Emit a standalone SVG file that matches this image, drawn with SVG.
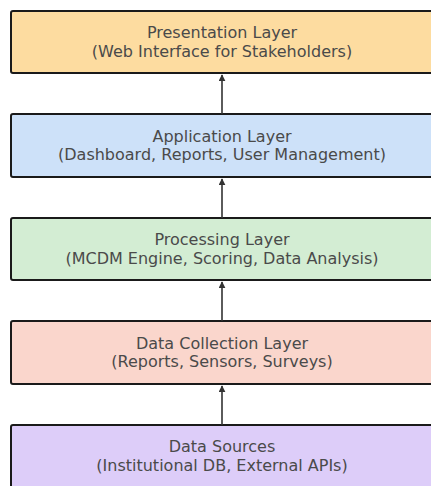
<svg xmlns="http://www.w3.org/2000/svg" width="431" height="486" viewBox="0 0 431 486">
<defs>
<style>
.box{stroke:#1a1a1a;stroke-width:2}
.t{font-family:"DejaVu Sans",sans-serif;font-size:16px;fill:#4a4a4a;text-anchor:middle}
.c{stroke:#333;stroke-width:1.6;fill:none}
</style>
<marker id="ah" viewBox="0 0 10 10" refX="9" refY="5" markerWidth="7" markerHeight="7" orient="auto" markerUnits="userSpaceOnUse">
<path d="M0,0 L10,5 L0,10 z" fill="#333"/>
</marker>
</defs>
<rect width="431" height="486" fill="#ffffff"/>
<g id="presentation">
<rect class="box" x="11" y="11" width="430" height="62" rx="2" fill="#fddca0"/>
<text class="t" x="222" y="38">Presentation Layer</text>
<text class="t" x="222" y="56.5">(Web Interface for Stakeholders)</text>
</g>
<g id="application">
<rect class="box" x="11" y="114" width="430" height="63" rx="2" fill="#cde1f9"/>
<text class="t" x="222" y="141.5">Application Layer</text>
<text class="t" x="222" y="160">(Dashboard, Reports, User Management)</text>
</g>
<g id="processing">
<rect class="box" x="11" y="218" width="430" height="62" rx="2" fill="#d3edd3"/>
<text class="t" x="222" y="245">Processing Layer</text>
<text class="t" x="222" y="263.5">(MCDM Engine, Scoring, Data Analysis)</text>
</g>
<g id="collection">
<rect class="box" x="11" y="321" width="430" height="63" rx="2" fill="#fad6cc"/>
<text class="t" x="222" y="348.5">Data Collection Layer</text>
<text class="t" x="222" y="367">(Reports, Sensors, Surveys)</text>
</g>
<g id="sources">
<rect class="box" x="11" y="425" width="430" height="70" rx="2" fill="#ddcdf9"/>
<text class="t" x="222" y="452">Data Sources</text>
<text class="t" x="222" y="470.5">(Institutional DB, External APIs)</text>
</g>
<g id="connectors">
<line class="c" x1="222" y1="114" x2="222" y2="75" marker-end="url(#ah)"/>
<line class="c" x1="222" y1="218" x2="222" y2="179" marker-end="url(#ah)"/>
<line class="c" x1="222" y1="321" x2="222" y2="282" marker-end="url(#ah)"/>
<line class="c" x1="222" y1="425" x2="222" y2="386" marker-end="url(#ah)"/>
</g>
</svg>
